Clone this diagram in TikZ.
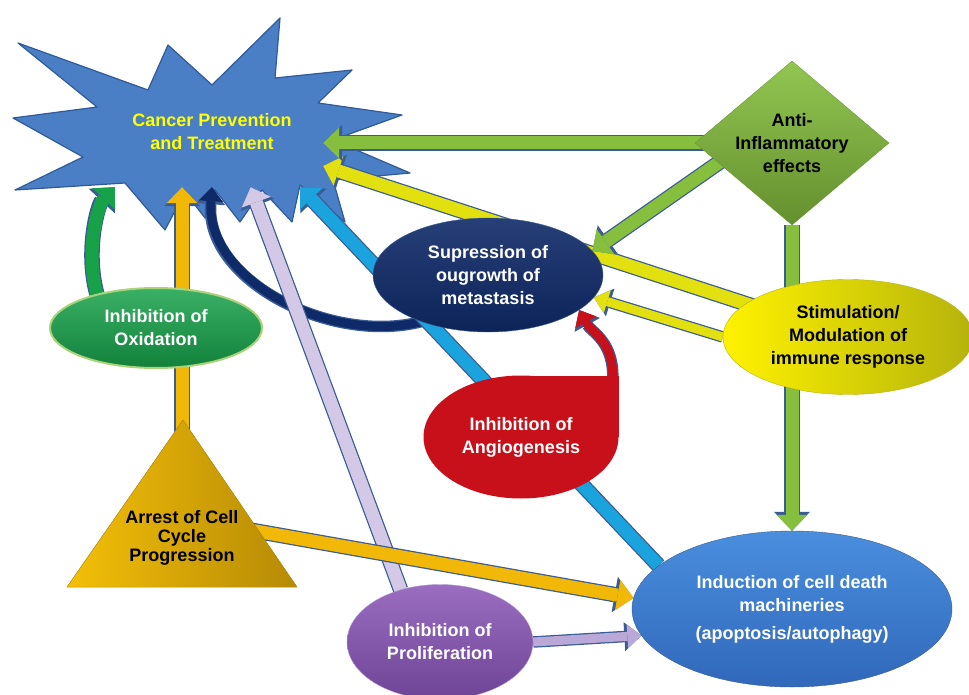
\documentclass[tikz,border=0pt]{standalone}
\usepackage{fontspec}
\setmainfont{Liberation Sans}
\usetikzlibrary{arrows.meta,positioning,shapes,backgrounds}

\pgfdeclarelayer{back}
\pgfdeclarelayer{front}
\pgfsetlayers{back,main,front}

\definecolor{rim}{HTML}{3A5C94}
\definecolor{burstFill}{HTML}{4A7EC5}
\definecolor{burstEdge}{HTML}{2F5B9B}
\definecolor{burstText}{HTML}{FFFF00}
\definecolor{leafc}{HTML}{86BF3E}
\definecolor{grnc}{HTML}{17A24A}
\definecolor{goldc}{HTML}{F2B808}
\definecolor{lavc}{HTML}{D3C8E6}
\definecolor{lavdark}{HTML}{B9A8D8}
\definecolor{cyanc}{HTML}{1AA3DC}
\definecolor{yellc}{HTML}{E2E00E}
\definecolor{navyc}{HTML}{0F2A68}
\definecolor{redc}{HTML}{C8101A}
\definecolor{purpTop}{HTML}{9A6DC0}
\definecolor{purpBot}{HTML}{6E4496}
\definecolor{deathTop}{HTML}{4A8EDE}
\definecolor{deathBot}{HTML}{3068BA}

\begin{document}
\begin{tikzpicture}[x=1pt, y=-1pt, thick]

	\tikzstyle{lbl}=[font=\fontsize{18}{23}\selectfont\bfseries, align=center, inner sep=0pt]
	\tikzstyle{goal}=[lbl, text=burstText, rectangle, minimum width=222pt, minimum height=110pt]
	\tikzstyle{inflam}=[lbl, diamond, aspect=1.2, minimum width=194pt, minimum height=164pt, draw=leafc!80!black, top color=leafc!90!white, bottom color=leafc!75!black]
	\tikzstyle{supbox}=[lbl, ellipse, text=white, minimum width=230pt, minimum height=114pt, draw=rim, top color=navyc!90!white, bottom color=navyc!85!black]
	\tikzstyle{immbox}=[lbl, ellipse, minimum width=250pt, minimum height=115pt, draw=yellc!80!black, left color=yellow!90!orange, right color=yellc!80!black]
	\tikzstyle{oxbox}=[lbl, ellipse, text=white, minimum width=212pt, minimum height=80pt, draw=leafc!70!white, line width=2pt, top color=grnc!85!white, bottom color=grnc!80!black]
	\tikzstyle{arrbox}=[font=\fontsize{18}{19}\selectfont\bfseries, align=center, inner sep=0pt]
	\tikzstyle{angbox}=[lbl, ellipse, text=white, minimum width=195pt, minimum height=123pt, fill=redc]
	\tikzstyle{probox}=[lbl, ellipse, text=white, minimum width=186pt, minimum height=115pt, draw=purpTop!70!white, top color=purpTop, bottom color=purpBot]
	\tikzstyle{deathbox}=[lbl, ellipse, text=white, minimum width=320pt, minimum height=156pt, draw=rim, top color=deathTop, bottom color=deathBot]
	\tikzstyle{fat}=[line width=13pt, -{Triangle[width=31pt,length=16pt,line width=0pt]}, preaction={draw=rim, line width=15.5pt, -{Triangle[width=36pt,length=19pt,line width=0pt]}}]
	\tikzstyle{slim}=[line width=9pt, -{Triangle[width=24pt,length=14pt,line width=0pt]}, preaction={draw=rim, line width=11.5pt, -{Triangle[width=29pt,length=17pt,line width=0pt]}}]

	\useasboundingbox (0,0) rectangle (969,695);

	% the burst
	\begin{pgfonlayer}{back}
		\filldraw[fill=burstFill, draw=burstEdge, line width=1.2pt, line join=round]
		(18,43) -- (148,90) -- (168,45) -- (212,85) -- (280,18) -- (275,78) -- (352,70) -- (318,103)
		-- (402,115) -- (333,140) -- (410,173) -- (333,180) -- (345,222) -- (300,185) -- (292,222)
		-- (262,190) -- (240,222) -- (215,190) -- (205,218) -- (185,192) -- (165,230) -- (125,183)
		-- (15,190) -- (83,157) -- (13,118) -- (97,107) -- cycle;
	\end{pgfonlayer}
	\node[goal] (cpt) at (212,132) {Cancer Prevention\\and Treatment};

	\begin{pgfonlayer}{front}
		\node[inflam] (anti) at (792,143) {Anti-\\Inflammatory\\effects};
		\node[supbox] (supp) at (488,275) {Supression of\\ougrowth of\\metastasis};
		\node[immbox] (immune) at (848,337) {Stimulation/\\Modulation of\\immune response};
		\node[oxbox] (oxi) at (156,328) {Inhibition of\\Oxidation};

		\filldraw[draw=goldc!80!black, left color=goldc!90!yellow, right color=goldc!75!black] (67,587) -- (183,420) -- (297,587) -- cycle;
		\node[arrbox] (arrest) at (182,538) {Arrest of Cell\\Cycle\\Progression};

		\fill[redc] (521,437) rectangle (618.5,375.5);
		\node[angbox] (angio) at (521,437) {Inhibition of\\Angiogenesis};
		\coordinate (angioTip) at (angio.north -| angio.east);

		\node[probox] (prolif) at (440,642) {Inhibition of\\Proliferation};
		\node[deathbox] (death) at (792,609) {Induction of cell death\\machineries\\[5pt](apoptosis/autophagy)};
	\end{pgfonlayer}

	% towards the burst
	\draw[slim, navyc] (supp.215) .. controls (330,345) and (205,280) .. (cpt.south);
	\draw[fat, grnc] (oxi.150) .. controls (85,250) and (98,205) .. ([xshift=14pt]cpt.south west);
	\draw[fat, goldc] (arrest.north) -- (arrest.north |- cpt.south);
	\draw[fat, cyanc] (death.162) -- (cpt.-32);
	\draw[fat, lavc] (prolif.127) -- (cpt.-55);
	\draw[fat, yellc] (immune.center) -- (cpt.-17);
	\draw[fat, leafc] (anti.center) -- (anti.center -| cpt.east);

	% towards the metastasis node
	\draw[fat, leafc] ([xshift=-45pt]anti.center) -- (supp.13);
	\draw[slim, yellc] (immune.west) -- (supp.-12);
	\draw[slim, redc] ([shift={(-6,6)}]angioTip) .. controls +(2,-40) and +(12,22) .. (supp.-21);

	% towards cell death
	\draw[fat, leafc] (anti.south) -- (anti.south |- death.north);
	\draw[fat, goldc] (arrest.10) -- (death.176);
	\draw[slim, lavdark] (prolif.east) -- (death.190);

\end{tikzpicture}
\end{document}
